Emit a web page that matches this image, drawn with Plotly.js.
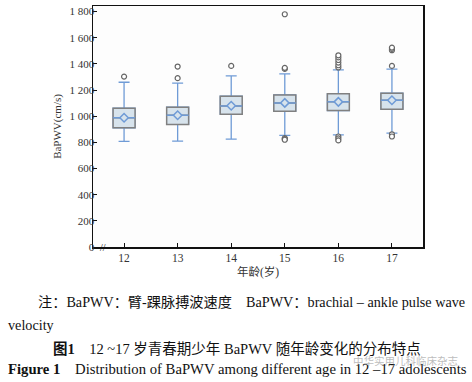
<!DOCTYPE html>
<html><head><meta charset="utf-8">
<script src="https://cdn.plot.ly/plotly-3.0.1.min.js"></script>
<style>html,body{margin:0;padding:0;background:#fff}#c{width:472px;height:382px}</style>
</head><body><div id="c"></div>
<script>
const ages = [12, 13, 14, 15, 16, 17];
const q1 = [911, 937, 1016, 1039, 1044, 1054];
const medians = [988, 1008, 1079, 1102, 1110, 1123];
const q3 = [1062, 1069, 1153, 1163, 1171, 1176];
const lowerFence = [807, 810, 825, 853, 858, 871];
const upperFence = [1260, 1253, 1309, 1324, 1354, 1360];
const means = [988, 1008, 1080, 1102, 1110, 1122];
const outlierAge = [12, 13, 13, 14, 15, 15, 15, 15, 15, 15, 16, 16, 16, 16, 16, 16, 16, 16, 16, 17, 17, 17, 17, 17, 17];
const outlierVal = [1303, 1291, 1380, 1385, 1780, 1362, 1370, 833, 826, 820, 1373, 1390, 1410, 1430, 1450, 1466, 845, 830, 815, 1385, 1505, 1515, 1525, 862, 845];
const yTickVals = [0, 200, 400, 600, 800, 1000, 1200, 1400, 1600, 1800];
const yTickText = ["0", "200", "400", "600", "800", "1 000", "1 200", "1 400", "1 600", "1 800"];
const xTickText = ["12", "13", "14", "15", "16", "17"];

const serif = "'Liberation Serif', 'Times New Roman', 'Noto Sans CJK SC', serif";
const blue = "#6f9bd6";
const boxFill = "#d7e3ec";
const gray = "#808080";

const traces = [
  { type: "box", x: ages, q1: q1, median: medians, q3: q3, lowerfence: lowerFence, upperfence: upperFence,
    width: 0.41, whiskerwidth: 0.5, boxpoints: false, fillcolor: boxFill, line: { color: blue, width: 1.3 },
    hoverinfo: "skip", showlegend: false },
  { type: "box", x: ages, q1: q1, median: medians, q3: q3, lowerfence: q1, upperfence: q3,
    width: 0.41, whiskerwidth: 0, boxpoints: false, fillcolor: boxFill, line: { color: gray, width: 1.5 },
    hoverinfo: "skip", showlegend: false },
  { type: "box", x: ages, q1: medians, median: medians, q3: medians, lowerfence: medians, upperfence: medians,
    width: 0.41, whiskerwidth: 0, boxpoints: false, fillcolor: "rgba(0,0,0,0)", line: { color: blue, width: 1.5 },
    hoverinfo: "skip", showlegend: false },
  { type: "scatter", mode: "markers", x: ages, y: means,
    marker: { symbol: "diamond", size: 6.5, color: boxFill, line: { color: blue, width: 1.5 } }, showlegend: false },
  { type: "scatter", mode: "markers", x: outlierAge, y: outlierVal,
    marker: { symbol: "circle", size: 5, color: "#ffffff", line: { color: "#666", width: 1.2 } }, showlegend: false }
];

const layout = {
  width: 472, height: 382,
  margin: { l: 93, r: 49, t: 6, b: 135 },
  paper_bgcolor: "#ffffff", plot_bgcolor: "#fdfdfd",
  font: { family: serif, color: "#222", size: 11 },
  xaxis: { range: [11.42, 17.58], tickvals: ages, ticktext: xTickText, ticks: "inside", ticklen: 4, tickcolor: "#111",
    showline: true, mirror: true, linecolor: "#111", linewidth: 1.5, showgrid: false, zeroline: false,
    tickfont: { family: serif, size: 11.5, color: "#333" },
    title: { text: "年龄(岁)", font: { family: serif, size: 11.5, color: "#333" }, standoff: 4 } },
  yaxis: { range: [0, 1843], tickvals: yTickVals, ticktext: yTickText, ticks: "inside", ticklen: 4, tickcolor: "#111",
    ticklabelstandoff: -5,
    showline: true, mirror: true, linecolor: "#111", linewidth: 1.5, showgrid: false, zeroline: false,
    tickfont: { family: serif, size: 11, color: "#333" } },
  annotations: [
    { xref: "paper", yref: "paper", x: -0.108, y: 0.5, textangle: -90, text: "BaPWV(cm/s)", showarrow: false,
      xanchor: "center", yanchor: "middle", font: { family: serif, size: 11, color: "#333" } },
    { xref: "paper", yref: "paper", x: 0.03, y: 0, text: "//", showarrow: false, font: { family: serif, size: 10, color: "#111" }, yanchor: "middle", xanchor: "center" },
    { xref: "paper", yref: "paper", x: -0.173, y: -0.228, xanchor: "left", yanchor: "middle", showarrow: false,
      text: "注：BaPWV：臂-踝脉搏波速度　BaPWV：brachial – ankle pulse wave", font: { family: serif, size: 14.2, color: "#111" } },
    { xref: "paper", yref: "paper", x: -0.264, y: -0.324, xanchor: "left", yanchor: "middle", showarrow: false,
      text: "velocity", font: { family: serif, size: 14.2, color: "#111" } },
    { xref: "paper", yref: "paper", x: 0.435, y: -0.423, xanchor: "center", yanchor: "middle", showarrow: false,
      text: "<b>图1</b>　12 ~17 岁青春期少年 BaPWV 随年龄变化的分布特点", font: { family: serif, size: 14.5, color: "#111" } },
    { xref: "paper", yref: "paper", x: -0.264, y: -0.506, xanchor: "left", yanchor: "middle", showarrow: false,
      text: "<b>Figure 1</b>　Distribution of BaPWV among different age in 12 –17 adolescents", font: { family: serif, size: 14.7, color: "#111" } },
    { xref: "paper", yref: "paper", x: 1.112, y: -0.473, xanchor: "right", yanchor: "middle", showarrow: false,
      text: "中华实用儿科临床杂志", font: { family: "Noto Sans CJK SC", size: 10.5, color: "rgba(120,120,120,0.5)" } }
  ]
};
Plotly.newPlot("c", traces, layout, { staticPlot: true, displayModeBar: false });
</script></body></html>
